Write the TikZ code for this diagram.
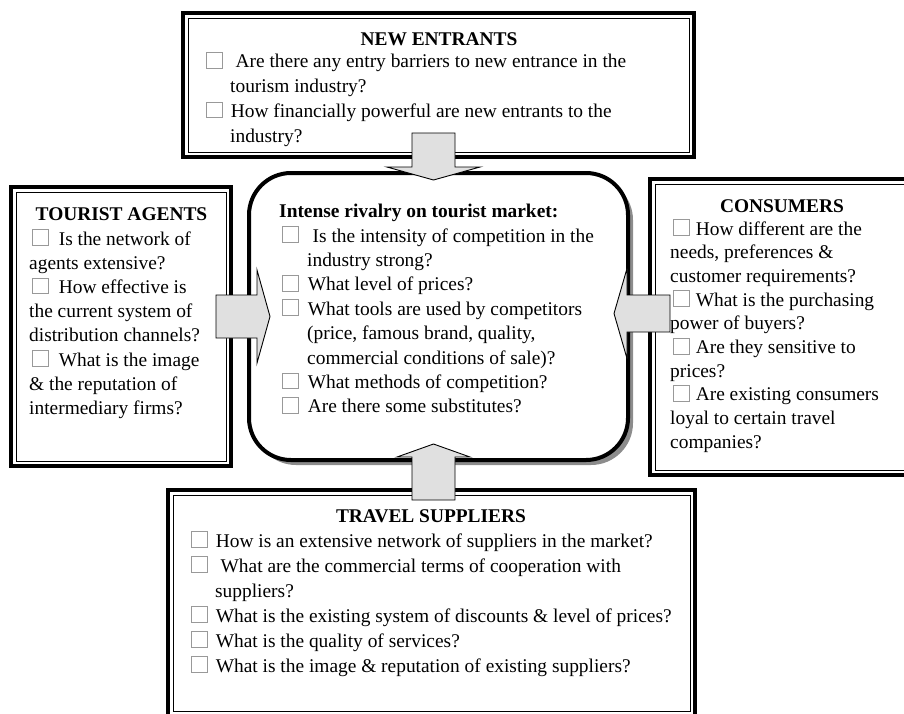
\documentclass[tikz,border=0pt]{standalone}
\usepackage{fontspec}
\setmainfont{Liberation Serif}
\usetikzlibrary{calc,shadows}
% grey tick box in front of each question
\newcommand{\chk}[1][8pt]{{\color{black!40}\setlength{\fboxsep}{0pt}\setlength{\fboxrule}{0.8pt}\fbox{\rule{0pt}{15pt}\hspace{15pt}}}\hspace{#1}}
% block arrow: start, tip, half shaft, half head
\newcommand{\blockarrow}[4]{%
  \coordinate (hb) at ($(#2)!13pt!(#1)$);
  \draw[arrowshape]($(#1)!#3!90:(#2)$)--($(hb)!#3!90:(#2)$)--($(hb)!#4!90:(#2)$)--(#2)
    --($(hb)!#4!-90:(#2)$)--($(hb)!#3!-90:(#2)$)--($(#1)!#3!-90:(#2)$)--cycle;}
\begin{document}
\begin{tikzpicture}[x=1pt,y=-1pt,
    frame/.style={draw,line width=4pt,outer sep=0pt,inner sep=0pt},
    inframe/.style={line width=0.8pt},
    rivalbox/.style={draw,line width=4pt,rounded corners=42pt,fill=white,outer sep=0pt,inner sep=0pt,
      drop shadow={shadow xshift=5pt,shadow yshift=-5pt,fill=black!45,opacity=1}},
    head/.style={font=\fontsize{19.4}{24}\selectfont\bfseries,inner sep=0pt,anchor=base},
    items/.style={font=\fontsize{19.4}{#1}\selectfont,align=left,anchor=base west,inner sep=0pt},
    arrowshape/.style={draw,line width=0.9pt,fill=black!12,line join=miter}]
    \useasboundingbox(0,0)rectangle(904,713);
    \clip(0,0)rectangle(904,713);
    % the four outer boxes
    \node[frame,minimum width=511pt,minimum height=144pt](entrants)at(438.5,85){};
    \node[frame,minimum width=220pt,minimum height=279pt](agents)at(121,326.5){};
    \node[frame,minimum width=263pt,minimum height=296pt](consumers)at(781.5,327){};
    \node[frame,minimum width=527pt,minimum height=226pt](suppliers)at(431.5,603){};
    \foreach \n in {entrants,agents,consumers,suppliers}
    \draw[inframe]([shift={(5pt,-5pt)}]\n.north west)rectangle([shift={(-5pt,5pt)}]\n.south east);
    % centre
    \node[rivalbox,minimum width=379pt,minimum height=287pt](rival)at(438.5,316.5){};
    % texts (placed at the baseline of their last line)
    \node[head](entrantsT)at(439,45){NEW ENTRANTS};
    \node[items=24.7](entrantsQ)at(206,142){\chk\ Are there any entry barriers to new entrance in the\\
        \hspace*{24pt}tourism industry?\\
        \chk How financially powerful are new entrants to the\\
        \hspace*{24pt}industry?};
    \node[head](agentsT)at(121.5,220){TOURIST AGENTS};
    \node[items=24.2](agentsQ)at(29,414.4){\hspace*{3pt}\chk[10pt]Is the network of\\
        agents extensive?\\
        \hspace*{3pt}\chk[10pt]How effective is\\
        the current system of\\
        distribution channels?\\
        \hspace*{3pt}\chk[10pt]What is the image\\
        \& the reputation of\\
        intermediary firms?};
    \node[head,anchor=base west](rivalT)at(279,217){Intense rivalry on tourist market:};
    \node[items=24.4](rivalQ)at(282,412.8){\chk[9pt]\ Is the intensity of competition in the\\
        \hspace*{25pt}industry strong?\\
        \chk[9pt]What level of prices?\\
        \chk[9pt]What tools are used by competitors\\
        \hspace*{25pt}(price, famous brand, quality,\\
        \hspace*{25pt}commercial conditions of sale)?\\
        \chk[9pt]What methods of competition?\\
        \chk[9pt]Are there some substitutes?};
    \node[head](consumersT)at(782,212){CONSUMERS};
    \node[items=23.7](consumersQ)at(670,448.3){\hspace*{3pt}\chk[6pt]How different are the\\
        needs, preferences \&\\
        customer requirements?\\
        \hspace*{3pt}\chk[6pt]What is the purchasing\\
        power of buyers?\\
        \hspace*{3pt}\chk[6pt]Are they sensitive to\\
        prices?\\
        \hspace*{3pt}\chk[6pt]Are existing consumers\\
        loyal to certain travel\\
        companies?};
    \node[head](suppliersT)at(431,522){TRAVEL SUPPLIERS};
    \node[items=25](suppliersQ)at(191,672){\chk How is an extensive network of suppliers in the market?\\
        \chk\ What are the commercial terms of cooperation with\\
        \hspace*{24pt}suppliers?\\
        \chk What is the existing system of discounts \& level of prices?\\
        \chk What is the quality of services?\\
        \chk What is the image \& reputation of existing suppliers?};
    % arrows into the centre
    \coordinate(topS)at($(rival.north)+(-5,-40)$);
    \coordinate(topE)at($(rival.north)+(-5,7)$);
    \coordinate(leftS)at($(rival.west)+(-33,0)$);
    \coordinate(leftE)at($(rival.west)+(21,0)$);
    \coordinate(rightS)at($(rival.east)+(42,-3)$);
    \coordinate(rightE)at($(rival.east)+(-14,-3)$);
    \coordinate(botS)at($(rival.south)+(-5,40)$);
    \coordinate(botE)at($(rival.south)+(-5,-16)$);
    \blockarrow{topS}{topE}{21.5pt}{46.5pt}
    \blockarrow{leftS}{leftE}{21.5pt}{46.5pt}
    \blockarrow{rightS}{rightE}{18.5pt}{45pt}
    \blockarrow{botS}{botE}{21.5pt}{36.5pt}
\end{tikzpicture}
\end{document}
